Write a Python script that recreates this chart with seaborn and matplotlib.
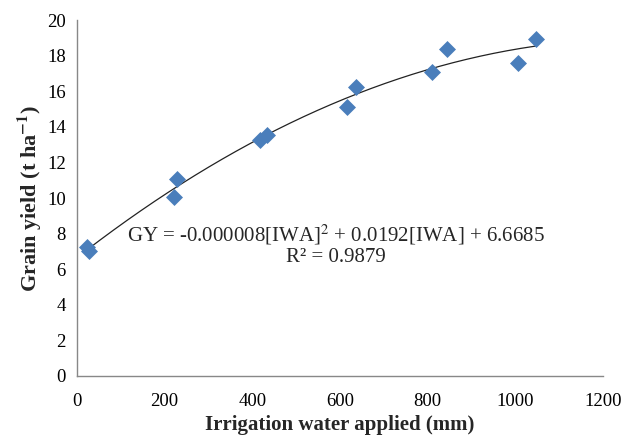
import numpy as np
import pandas as pd
import matplotlib
matplotlib.use("Agg")
import matplotlib.pyplot as plt
import seaborn as sns

# irrigation water applied (mm) and grain yield (t/ha)
iwa = [22, 27, 222, 227, 418, 433, 615, 637, 809, 844, 1005, 1048]
gy = [7.27, 7.04, 10.07, 11.07, 13.26, 13.54, 15.13, 16.22, 17.06, 18.35, 17.57, 18.93]

x_ticks = [0, 200, 400, 600, 800, 1000, 1200]
y_ticks = [0, 2, 4, 6, 8, 10, 12, 14, 16, 18, 20]

eq_text = "GY = -0.000008[IWA]$^{2}$ + 0.0192[IWA] + 6.6685"
r2_text = "R\u00b2 = 0.9879"

df = pd.DataFrame({"iwa": iwa, "gy": gy})

sns.set_style("white")
plt.rcParams["font.family"] = ["Liberation Serif", "DejaVu Serif"]
plt.rcParams["mathtext.fontset"] = "stix"

fig = plt.figure(figsize=(6.23, 4.37), dpi=100)
ax = fig.add_axes([0.1236, 0.1396, 0.968 - 0.1236, 0.954 - 0.1396])

# second-order trendline fitted to the points
coef = np.polyfit(df["iwa"], df["gy"], 2)
xs = np.linspace(df["iwa"].min(), df["iwa"].max(), 200)
sns.lineplot(x=xs, y=np.polyval(coef, xs), color="#222222", lw=0.9, ax=ax)

sns.scatterplot(data=df, x="iwa", y="gy", marker="D", s=75, color="#4a7ebb",
                edgecolor="#4a7ebb", linewidth=0, ax=ax, zorder=3)

ax.set_xlim(0, 1200)
ax.set_ylim(0, 20)
ax.set_xticks(x_ticks)
ax.set_yticks(y_ticks)
ax.set_xticks(np.arange(0, 1201, 40), minor=True)
ax.tick_params(axis="both", which="both", direction="out", colors="#888888",
               labelcolor="black", labelsize=13.5)
ax.tick_params(axis="x", which="major", length=5, pad=7)
ax.tick_params(axis="x", which="minor", length=4)
ax.tick_params(axis="y", which="major", length=5, pad=3)

for side in ["top", "right"]:
    ax.spines[side].set_visible(False)
for side in ["left", "bottom"]:
    ax.spines[side].set_color("#888888")
    ax.spines[side].set_linewidth(1)

ax.set_xlabel("Irrigation water applied (mm)", fontsize=15, fontweight="bold",
              labelpad=4)
ax.set_ylabel("Grain yield (t ha$^{\\mathbf{-1}}$)", fontsize=16,
              fontweight="bold", labelpad=2)

ax.text(590, 7.95, eq_text, fontsize=15, ha="center", va="center")
ax.text(590, 6.65, r2_text, fontsize=15, ha="center", va="center")

fig.savefig("out.png", dpi=100)
